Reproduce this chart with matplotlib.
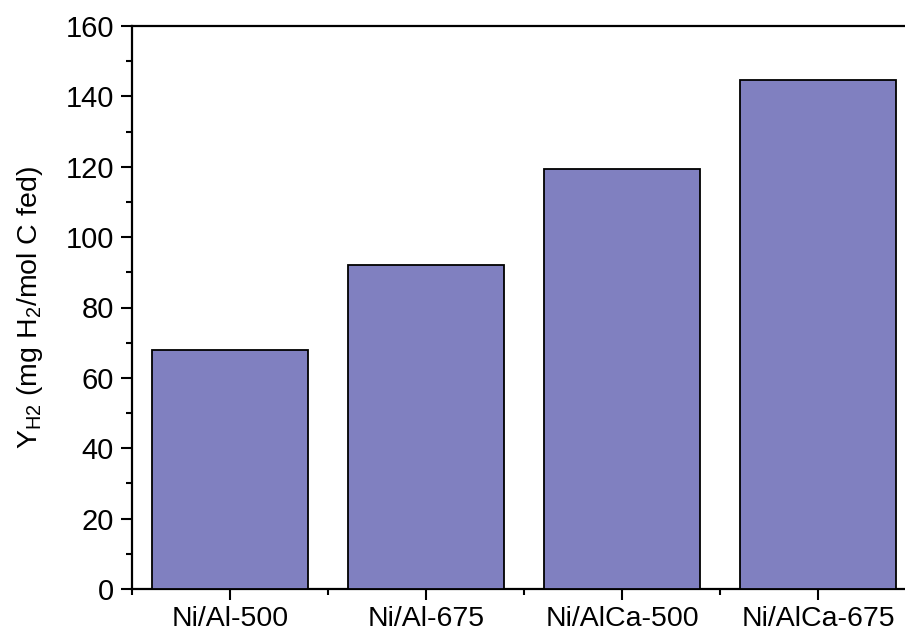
import matplotlib
matplotlib.use("Agg")
import matplotlib.pyplot as plt
from matplotlib.ticker import MultipleLocator, FixedLocator

plt.rcParams['font.family'] = ['Liberation Sans', 'DejaVu Sans']
plt.rcParams['mathtext.fontset'] = 'custom'
plt.rcParams['mathtext.rm'] = 'Liberation Sans'
plt.rcParams['mathtext.it'] = 'Liberation Sans'

categories = ["Ni/Al-500", "Ni/Al-675", "Ni/AlCa-500", "Ni/AlCa-675"]
values = [67.9, 92.1, 119.4, 144.6]

W, H = 905, 631
fig = plt.figure(figsize=(W / 100, H / 100), dpi=100)
left, right, top, bottom = 132, 916, 26, 589
ax = fig.add_axes([left / W, 1 - bottom / H, (right - left) / W, (bottom - top) / H])

pos = list(range(1, len(categories) + 1))
ax.bar(pos, values, width=0.8, color='#8080c0', edgecolor='black', linewidth=1.3, zorder=3)

ax.set_xlim(0.5, len(categories) + 0.5)
ax.set_ylim(0, 160)
ax.set_xticks(pos)
ax.set_xticklabels(categories)
ax.xaxis.set_minor_locator(FixedLocator([p + 0.5 for p in [0] + pos]))
ax.yaxis.set_major_locator(MultipleLocator(20))
ax.yaxis.set_minor_locator(MultipleLocator(10))

for s in ax.spines.values():
    s.set_linewidth(1.6)
ax.spines['right'].set_visible(False)

ax.tick_params(axis='both', which='major', direction='out', length=8, width=1.5, pad=5)
ax.tick_params(axis='y', which='major', labelsize=21)
ax.tick_params(axis='x', which='major', labelsize=20.5, pad=4)
ax.tick_params(axis='both', which='minor', direction='out', length=4.5, width=1.5)
ax.tick_params(axis='y', which='both', right=False)
ax.tick_params(axis='x', which='both', top=False)

ax.set_ylabel(r'Y$_{\mathrm{H2}}$ (mg H$_{2}$/mol C fed)', fontsize=20.5)
ax.yaxis.set_label_coords(-(132 - 45) / (right - left), 0.5)

fig.savefig("out.png", dpi=100)
